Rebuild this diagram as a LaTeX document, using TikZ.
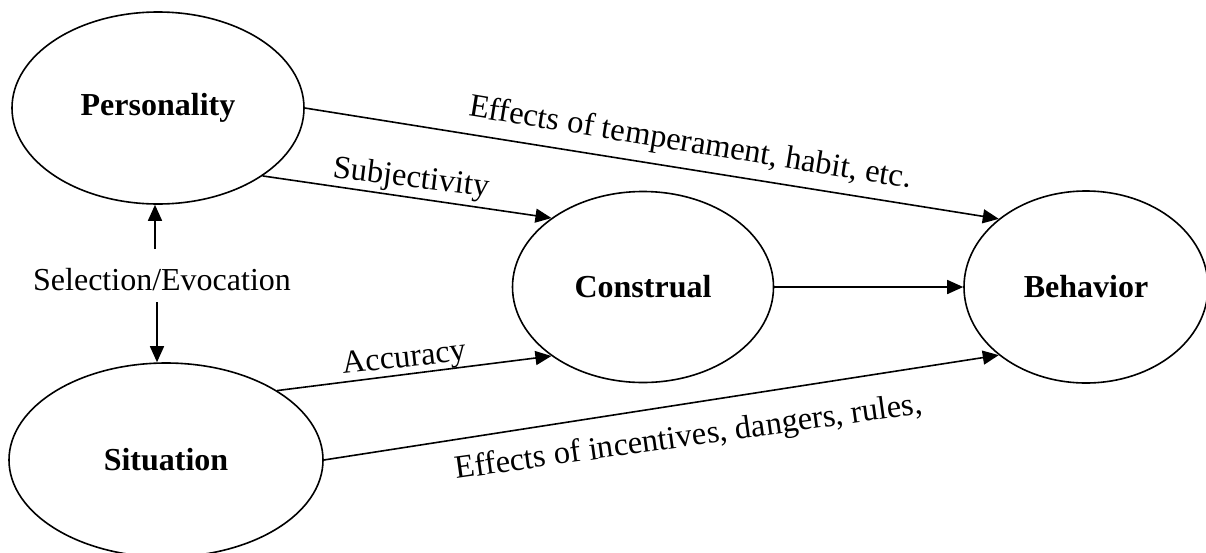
\documentclass[tikz,border=0pt]{standalone}
\usepackage{fontspec}
\setmainfont{Liberation Serif}
\usetikzlibrary{shapes.geometric,arrows.meta}
\begin{document}
\begin{tikzpicture}[x=1pt,y=-1pt,
  oval/.style={draw,ellipse,line width=1.6pt,inner sep=0pt,font=\fontsize{32}{36}\selectfont\bfseries},
  arr/.style={line width=1.6pt,-{Triangle[length=16pt,width=14pt]}},
  lbl/.style={inner sep=0pt,font=\fontsize{32.5}{38}\selectfont,anchor=base},
  plain/.style={inner sep=0pt,font=\fontsize{32}{36}\selectfont}]
\useasboundingbox (0,0) rectangle (1206,552);
\node[oval,minimum width=292pt,minimum height=192pt] (pers) at (158,108) {Personality};
\node[oval,minimum width=314pt,minimum height=194pt] (sit) at (166,460) {Situation};
\node[oval,minimum width=261pt,minimum height=191pt] (cons) at (643,287) {Construal};
\node[oval,minimum width=244pt,minimum height=192pt] (beh) at (1086,287) {Behavior};
\node[plain] (sel) at (162,280) {Selection/Evocation};
\coordinate (selTop) at (155,249);
\coordinate (selBot) at (157,302);
\draw[arr] (selTop) -- (selTop |- pers.south);
\draw[arr] (selBot) -- (selBot |- sit.north);
\draw[arr] (pers.east) -- (beh.142);
\draw[arr] (pers.-33) -- (cons.143);
\draw[arr] (sit.32) -- (cons.217);
\draw[arr] (sit.east) -- (beh.218);
\draw[arr] (cons.east) -- (beh.west);
\node[lbl,rotate=-9.3] (l1) at (689,152) {Effects of temperament, habit, etc.};
\node[lbl,rotate=-7] (l2) at (410,187) {Subjectivity};
\node[lbl,rotate=6.3] (l3) at (405,367) {Accuracy};
\node[lbl,rotate=8] (l4) at (690,446) {Effects of incentives, dangers, rules,};
\end{tikzpicture}
\end{document}
